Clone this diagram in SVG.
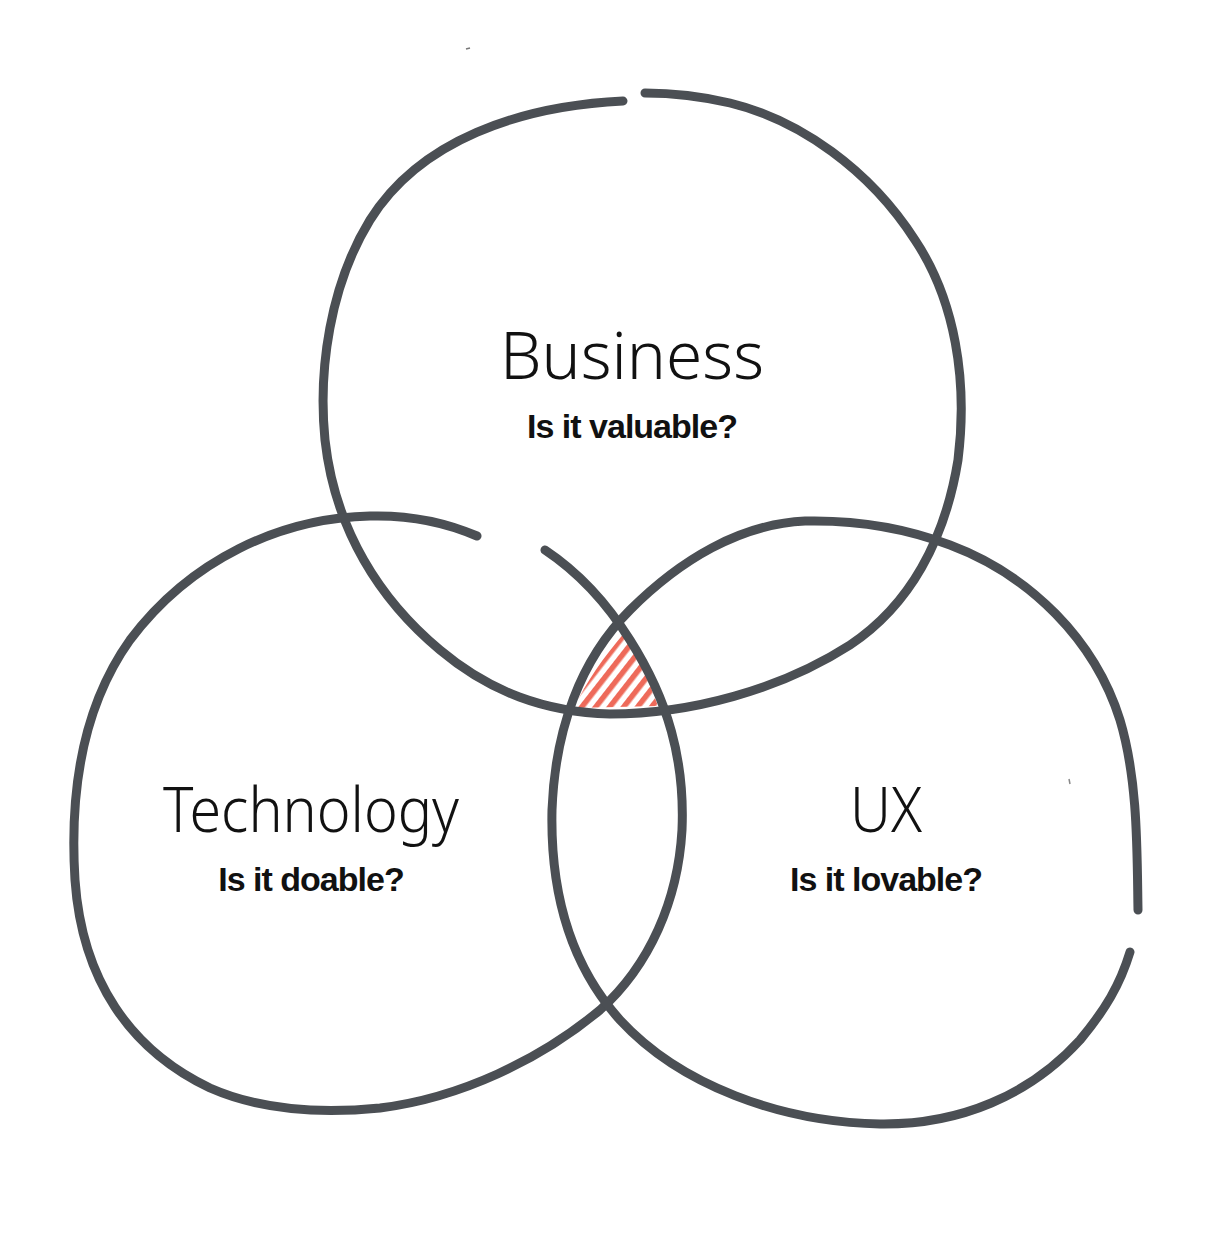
<svg xmlns="http://www.w3.org/2000/svg" width="1213" height="1236" viewBox="0 0 1213 1236">
<style>
.c{fill:none;stroke:#4b4f54;stroke-width:9;stroke-linecap:round;stroke-linejoin:round}
.h{font-family:"Noto Sans","DejaVu Sans",sans-serif;font-weight:300;fill:#111;text-anchor:middle}
.q{font-family:"Liberation Sans",Arial,sans-serif;font-weight:bold;fill:#111;text-anchor:middle;font-size:34px;letter-spacing:-1px}
</style>
<defs>
<pattern id="hatch" patternUnits="userSpaceOnUse" width="11" height="11" patternTransform="rotate(38)">
<rect width="11" height="11" fill="#fff"/>
<rect x="0" y="0" width="5.5" height="11" fill="#ee6a5a"/>
</pattern>
</defs>
<rect width="1213" height="1236" fill="#fff"/>
<g id="hatch-area">
<path d="M625,632 C603,658 586,682 574,708 L658,706 C648,680 640,655 625,632 Z" fill="url(#hatch)"/>
</g>
<g id="connectors">
<path id="business-circle" class="c" d="M623,101 C520,106 420,140 370,220 C330,285 318,370 325,440 C335,530 380,600 440,650 C490,692 545,712 610,714 C690,714 780,690 850,645 C910,605 945,540 958,460 C968,380 955,300 915,240 C870,170 800,120 730,103 C700,96 670,93 645,93"/>
<path id="technology-circle" class="c" d="M477,536 C440,520 405,515 370,516 C280,518 190,560 130,640 C80,710 70,800 75,880 C82,980 130,1050 210,1088 C260,1110 320,1114 380,1108 C460,1098 540,1060 600,1010 C650,965 678,900 682,830 C685,760 668,700 630,640 C605,600 575,570 545,550"/>
<path id="ux-circle" class="c" d="M1138,910 C1137,850 1138,780 1120,720 C1095,640 1030,575 950,545 C900,526 850,520 805,521 C740,524 680,560 630,610 C580,660 555,730 552,810 C550,900 575,970 620,1020 C680,1085 780,1122 880,1124 C960,1125 1030,1095 1080,1040 C1105,1010 1120,985 1130,952"/>
</g>
<g id="specks">
<path d="M466,49 L470,48" stroke="#777" stroke-width="1.5"/>
<path d="M1069,779 L1070,784" stroke="#888" stroke-width="1.5"/>
</g>
<g id="business">
<text class="h" x="632" y="379" font-size="66" textLength="264" lengthAdjust="spacingAndGlyphs">Business</text>
<text class="q" x="632" y="438">Is it valuable?</text>
</g>
<g id="technology">
<text class="h" x="311" y="832" font-size="62" textLength="296" lengthAdjust="spacingAndGlyphs">Technology</text>
<text class="q" x="311" y="891">Is it doable?</text>
</g>
<g id="ux">
<text class="h" x="886" y="832" font-size="62" textLength="72" lengthAdjust="spacingAndGlyphs">UX</text>
<text class="q" x="886" y="891">Is it lovable?</text>
</g>
</svg>
